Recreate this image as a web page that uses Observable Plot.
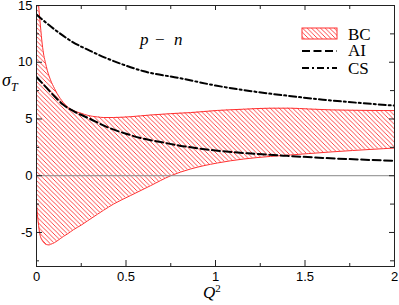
<!DOCTYPE html>
<html><head><meta charset="utf-8">
<script src="https://cdn.jsdelivr.net/npm/d3@7"></script>
<script src="https://cdn.jsdelivr.net/npm/@observablehq/plot@0.6"></script>
<style>
html,body{margin:0;padding:0;background:#fff;}
#chart{width:399px;height:305px;}
.serif{font-family:'Liberation Serif','Times New Roman',serif !important;text-anchor:start;}
</style></head><body><div id="chart"></div>
<script>
// ---- data ----
const bcX     = [0, 0.007, 0.012, 0.018, 0.022, 0.032, 0.041, 0.05, 0.06, 0.07, 0.078, 0.1, 0.115, 0.15, 0.171, 0.207, 0.25, 0.285, 0.34, 0.374, 0.43, 0.525, 0.637, 0.75, 0.86, 1.01, 1.156, 1.307, 1.419, 1.52, 1.65, 1.765, 1.88, 2.0];
const bcUpper = [19, 16.3, 15.0, 13.9, 13.2, 11.6, 10.6, 9.95, 9.3, 8.8, 8.45, 7.7, 7.25, 6.45, 6.1, 5.74, 5.5, 5.32, 5.18, 5.13, 5.13, 5.2, 5.35, 5.47, 5.56, 5.75, 5.86, 5.95, 5.95, 5.88, 5.8, 5.77, 5.75, 5.74];
const bcLower = [-2.5, -3.7, -4.4, -5.1, -5.35, -5.7, -5.9, -6.03, -6.08, -6.1, -6.05, -5.9, -5.75, -5.35, -5.15, -4.75, -4.35, -3.98, -3.4, -3.05, -2.5, -1.75, -0.88, 0, 0.59, 1.12, 1.47, 1.7, 1.83, 1.95, 2.1, 2.22, 2.33, 2.44];

const aiX = [0, 0.05, 0.1, 0.15, 0.2, 0.3, 0.4, 0.5, 0.6, 0.7, 0.8, 0.9, 1.0, 1.2, 1.4, 1.6, 1.8, 2.0];
const aiY = [8.7, 7.85, 7.0, 6.25, 5.75, 5.0, 4.25, 3.7, 3.25, 2.95, 2.65, 2.42, 2.22, 1.95, 1.75, 1.57, 1.43, 1.32];

const csX = [0, 0.1, 0.2, 0.3, 0.4, 0.5, 0.6, 0.8, 1.0, 1.2, 1.4, 1.6, 1.8, 2.0];
const csY = [14.2, 12.9, 11.8, 11.0, 10.3, 9.7, 9.2, 8.6, 7.95, 7.45, 7.05, 6.7, 6.42, 6.18];

const xTicksMajor = [0, 0.5, 1, 1.5, 2];
const xTicksMinor = [0.25, 0.75, 1.25, 1.75];
const yTicksMajor = [-5, 0, 5, 10, 15];
const yTicksMinor = [-7.5, -2.5, 2.5, 7.5, 12.5];
const legendLabels = ["BC", "AI", "CS"];
const xLabel = "Q";
const yLabel = "σ";
const panelLabel = ["p", "−", "n"];

// ---- tables ----
const bc = bcX.map((x, i) => ({x, hi: bcUpper[i], lo: bcLower[i]}));
const ai = aiX.map((x, i) => ({x, y: aiY[i]}));
const cs = csX.map((x, i) => ({x, y: csY[i]}));

const W = 399, H = 305, mL = 36, mR = 5, mT = 5, mB = 39;
const plotW = W - mL - mR, plotH = H - mT - mB;
const red = "#ff3030", ink = "#222";
const aiDash = "8,3.5", csDash = "7,3,2,3";

const svg = Plot.plot({
  width: W, height: H,
  marginLeft: mL, marginRight: mR, marginTop: mT, marginBottom: mB,
  style: {fontFamily: "'Liberation Sans', Arial, sans-serif", fontSize: "13px", background: "#fff", color: "#000"},
  x: {domain: [0, 2]},
  y: {domain: [-8, 15]},
  marks: [
    Plot.areaY(bc, {x: "x", y1: "lo", y2: "hi", fill: "url(#bcHatch)", curve: "monotone-x", clip: true}),
    Plot.line(bc, {x: "x", y: "hi", stroke: red, strokeWidth: 1, curve: "monotone-x", clip: true}),
    Plot.line(bc, {x: "x", y: "lo", stroke: red, strokeWidth: 1, curve: "monotone-x", clip: true}),
    Plot.ruleY([0], {stroke: "#888", strokeWidth: 1}),
    Plot.line(ai, {x: "x", y: "y", stroke: "#000", strokeWidth: 2, strokeDasharray: aiDash, curve: "monotone-x", clip: true}),
    Plot.line(cs, {x: "x", y: "y", stroke: "#000", strokeWidth: 2, strokeDasharray: csDash, curve: "monotone-x", clip: true}),
    Plot.frame({stroke: ink, strokeWidth: 1}),
    // inward ticks: bottom / top
    Plot.tickX(xTicksMajor, {x: d => d, insetTop: plotH - 6, stroke: ink}),
    Plot.tickX(xTicksMinor, {x: d => d, insetTop: plotH - 3, stroke: ink}),
    Plot.tickX(xTicksMajor, {x: d => d, insetBottom: plotH - 5, stroke: ink}),
    Plot.tickX(xTicksMinor, {x: d => d, insetBottom: plotH - 4, stroke: ink}),
    // inward ticks: left / right
    Plot.tickY(yTicksMajor, {y: d => d, insetRight: plotW - 6, stroke: ink}),
    Plot.tickY(yTicksMinor, {y: d => d, insetRight: plotW - 3, stroke: ink}),
    Plot.tickY(yTicksMajor, {y: d => d, insetLeft: plotW - 5, stroke: ink}),
    Plot.tickY(yTicksMinor, {y: d => d, insetLeft: plotW - 4, stroke: ink}),
    Plot.axisX(xTicksMajor, {anchor: "bottom", tickSize: 0, tickPadding: 5, tickFormat: d => String(d), label: null, fontSize: 13}),
    Plot.axisY(yTicksMajor, {anchor: "left", tickSize: 0, tickPadding: 4, tickFormat: d => String(d), label: null, fontSize: 13})
  ]
});

// hatch pattern
const s = d3.select(svg);
const defs = s.insert("defs", ":first-child");
const pat = defs.append("pattern").attr("id", "bcHatch").attr("patternUnits", "userSpaceOnUse")
  .attr("width", 4.5).attr("height", 4.5);
pat.append("path").attr("d", "M-1,-1L5.5,5.5M-1,3.5L1,5.5M3.5,-1L5.5,1")
  .attr("stroke", red).attr("stroke-width", 0.9).attr("fill", "none");

// legend
const lg = s.append("g").attr("class", "serif").style("font-size", "17px").attr("fill", "#000");
lg.append("rect").attr("x", 302).attr("y", 28).attr("width", 35).attr("height", 11)
  .attr("fill", "url(#bcHatch)").attr("stroke", red).attr("stroke-width", 1);
lg.append("line").attr("x1", 302).attr("x2", 337).attr("y1", 51).attr("y2", 51)
  .attr("stroke", "#000").attr("stroke-width", 2).attr("stroke-dasharray", aiDash);
lg.append("line").attr("x1", 302).attr("x2", 337).attr("y1", 68).attr("y2", 68)
  .attr("stroke", "#000").attr("stroke-width", 2).attr("stroke-dasharray", csDash);
[39.5, 56, 73.5].forEach((yb, i) => lg.append("text").attr("class", "serif").attr("x", 348).attr("y", yb).text(legendLabels[i]));

// panel label p − n
const pl = s.append("text").attr("class", "serif").style("font-size", "17px").attr("y", 45);
pl.append("tspan").attr("x", 140).style("font-style", "italic").text(panelLabel[0]);
pl.append("tspan").attr("x", 155).text(panelLabel[1]);
pl.append("tspan").attr("x", 174).style("font-style", "italic").text(panelLabel[2]);

// y label σ_T
const yl = s.append("text").attr("class", "serif").attr("x", 2).attr("y", 86);
yl.append("tspan").style("font-size", "18px").style("font-style", "italic").text(yLabel);
yl.append("tspan").style("font-size", "12px").style("font-style", "italic").attr("dy", 5).text("T");

// x label Q²
const xl = s.append("text").attr("class", "serif").attr("x", 203).attr("y", 298);
xl.append("tspan").style("font-size", "17px").style("font-style", "italic").text(xLabel);
xl.append("tspan").style("font-size", "11px").attr("dy", -6).text("2");

document.getElementById("chart").appendChild(svg);
</script>
</body></html>
